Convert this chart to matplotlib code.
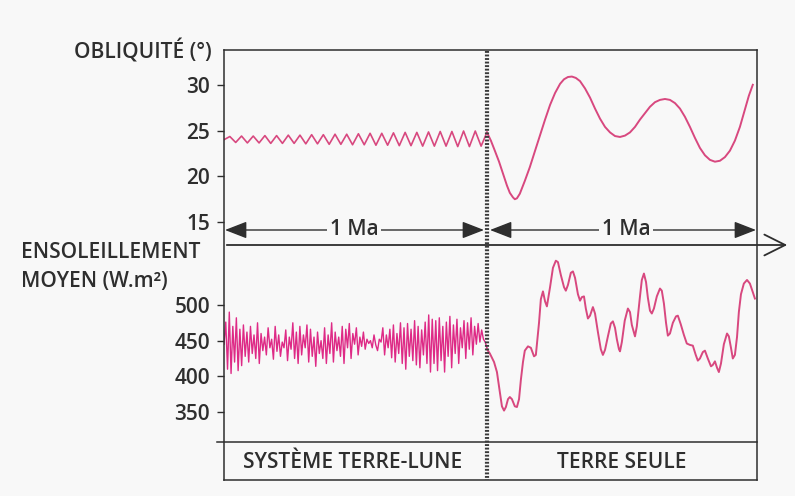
import numpy as np
import matplotlib
matplotlib.use("Agg")
import matplotlib.pyplot as plt
from matplotlib.lines import Line2D
from matplotlib.patches import FancyArrowPatch

# ---- data (time in kyr, 0 = the Moon disappears) ----
obliq_left = [24.0,
              24.35, 23.7, 24.4, 23.65, 24.4, 23.65, 24.45, 23.6, 24.45, 23.6,
              24.5, 23.6, 24.5, 23.55, 24.55, 23.55, 24.55, 23.5, 24.6, 23.5,
              24.6, 23.45, 24.65, 23.45, 24.7, 23.4, 24.7, 23.4, 24.75, 23.35,
              24.8, 23.35, 24.8, 23.3, 24.85, 23.3, 24.9, 23.3, 24.9, 23.25,
              24.95, 23.25, 24.95, 23.3, 24.8]

obliq_right_t = [0, 15, 30, 46, 61, 76, 87, 99, 106, 114, 125, 144, 163, 183,
                 202, 221, 240, 259, 278, 293, 308, 323, 338, 354, 373, 392,
                 411, 430, 449, 468, 487, 506, 525, 544, 563, 582, 601, 620,
                 639, 658, 677, 696, 715, 734, 753, 772, 791, 810, 829, 848,
                 867, 886, 905, 924, 943, 962, 981, 996, 1011]
obliq_right = [24.8, 23.9, 22.8, 21.6, 20.3, 19.0, 18.2, 17.7, 17.5, 17.6,
               18.1, 19.5, 21.0, 22.8, 24.5, 26.2, 27.8, 29.1, 30.1, 30.6,
               30.85, 30.9, 30.75, 30.4, 29.6, 28.6, 27.4, 26.3, 25.4, 24.8,
               24.4, 24.3, 24.45, 24.8, 25.4, 26.2, 26.9, 27.6, 28.1, 28.35,
               28.45, 28.35, 28.0, 27.4, 26.5, 25.4, 24.2, 23.1, 22.3, 21.8,
               21.6, 21.7, 22.1, 22.8, 23.9, 25.4, 27.3, 28.8, 30.0]

insol_left = [445, 476, 410, 490, 404, 470, 420, 482, 408, 466, 415, 472,
              428, 462, 420, 470, 432, 458, 425, 475, 418, 460, 436, 455,
              430, 468, 440, 452, 424, 470,
              435, 458, 428, 448, 440, 465, 422, 455, 438, 475, 425, 462,
              418, 470, 430, 458,
              440, 472, 420, 466, 428, 455, 414, 462, 432, 450, 425, 468,
              418, 458, 432, 475, 420, 462, 436, 455,
              428, 470, 418, 466, 440, 474, 425, 460, 445, 468, 430, 455,
              442, 462, 438, 452,
              446, 450, 440, 458, 444, 436, 452, 448, 468, 430, 458, 440,
              466, 426, 472, 420,
              460, 432, 475, 418, 468, 410, 474, 428, 466, 422, 478, 416,
              470, 412, 465, 430, 476, 418,
              486, 406, 480, 418, 478, 408, 482, 422, 470, 406, 476, 428,
              484, 412, 472, 432, 480, 418, 468, 440, 478, 425, 475, 438,
              482, 430, 470, 445, 474, 448, 465, 452, 448, 440]

insol_right_t = [0, 11, 27, 38, 49, 57, 65, 72, 80, 87, 95, 106, 114, 122,
                 129, 137, 144, 156, 167, 179, 186, 198, 205, 213, 221, 228,
                 240, 251, 262, 270, 281, 293, 300, 308, 319, 327, 335, 346,
                 354, 361, 369, 376, 384, 392, 403, 411, 422, 433, 441, 449,
                 460, 471, 479, 487, 494, 502, 506, 513, 524, 536, 544, 551,
                 563, 570, 582, 589, 597, 605, 612, 620, 627, 635, 646, 658,
                 665, 673, 681, 688, 696, 707, 719, 726, 737, 749, 760, 772,
                 783, 794, 802, 810, 821, 829, 840, 852, 859, 867, 875, 882,
                 890, 901, 913, 920, 928, 935, 943, 951, 958, 966, 977, 989,
                 1000, 1011, 1019]
insol_right = [438, 432, 420, 406, 378, 358, 352, 357, 368, 371, 368, 358,
               357, 368, 395, 420, 436, 442, 440, 428, 430, 475, 508, 519,
               505, 498, 525, 552, 562, 560, 542, 525, 520, 528, 545, 547,
               538, 515, 506, 511, 512, 495, 481, 485, 497, 488, 462, 438,
               430, 437, 456, 474, 477, 468, 452, 438, 435, 448, 478, 495,
               490, 472, 456, 470, 512, 535, 544, 532, 510, 492, 488, 495,
               512, 523, 520, 502, 475, 457, 460, 475, 484, 485, 473, 458,
               446, 444, 443, 430, 422, 425, 434, 436, 425, 414, 416, 421,
               412, 406, 418, 445, 460, 456, 440, 425, 430, 455, 490, 515,
               530, 535, 530, 518, 509]

obliq_ticks = [15, 20, 25, 30]
insol_ticks = [350, 400, 450, 500]

# ---- style ----
W, H = 795, 496
BG = "#f8f8f8"
INK = "#2e2e2e"
PINK = "#d8487f"
MAGENTA = "#de2a86"
FS = 15
plt.rcParams["font.family"] = ["Open Sans", "DejaVu Sans"]
plt.rcParams["font.weight"] = "semibold"


def fx(x):
    return x / W


def fy(y):
    return 1 - y / H


def rect(x0, y0, x1, y1):
    return [fx(x0), fy(y1), (x1 - x0) / W, (y1 - y0) / H]


def fig_line(fig, xs, ys, **kw):
    kw.setdefault("color", INK)
    kw.setdefault("lw", 1.1)
    fig.add_artist(Line2D([fx(x) for x in xs], [fy(y) for y in ys],
                          transform=fig.transFigure, **kw))


fig = plt.figure(figsize=(W / 100, H / 100), dpi=100)
fig.patch.set_facecolor(BG)

ax_top = fig.add_axes(rect(224, 50, 757, 245))
ax_bot = fig.add_axes(rect(224, 245, 757, 442))
for ax in (ax_top, ax_bot):
    ax.set_facecolor("none")
    for s in ax.spines.values():
        s.set_visible(False)
    ax.set_xlim(-1000, 1027)
    ax.set_xticks([])
    ax.tick_params(axis="y", direction="out", length=5, width=1.0,
                   color=INK, labelcolor=INK, pad=5, labelsize=FS)

ax_top.set_ylim(12.5, 33.8)
ax_top.set_yticks(obliq_ticks)
ax_bot.set_ylim(308, 584)
ax_bot.set_yticks(insol_ticks)

t_left_top = np.linspace(-1000, 0, len(obliq_left))
ax_top.plot(t_left_top, obliq_left, color=PINK, lw=1.2, solid_joinstyle="round")
ax_top.plot(obliq_right_t, obliq_right, color=PINK, lw=1.4, solid_joinstyle="round")

t_left_bot = np.linspace(-1000, 0, len(insol_left))
ax_bot.plot(t_left_bot, insol_left, color=MAGENTA, lw=1.0, solid_joinstyle="round")
ax_bot.plot(insol_right_t, insol_right, color=PINK, lw=1.4, solid_joinstyle="round")

# ---- frame ----
fig_line(fig, [224, 224], [50, 480])
fig_line(fig, [224, 757], [50, 50])
fig_line(fig, [757, 757], [50, 480])
fig_line(fig, [217, 757], [442, 442])
fig_line(fig, [224, 757], [480, 480])
fig_line(fig, [487, 487], [51, 480], lw=3.0, ls=(0, (0.45, 0.4)), color="#3a3a3a")

# time axis arrow
fig.add_artist(FancyArrowPatch(
    (fx(224), fy(245)), (fx(790), fy(245)), transform=fig.transFigure,
    arrowstyle="->,head_length=1.0,head_width=0.5", color=INK, lw=1.3,
    mutation_scale=15))

# "1 Ma" spans
for x0, x1, xt in [(225, 484, 354), (490, 756, 626)]:
    fig.add_artist(FancyArrowPatch(
        (fx(x0), fy(230)), (fx(x1), fy(230)), transform=fig.transFigure,
        arrowstyle="<|-|>,head_length=0.9,head_width=0.35", color=INK, lw=1.0,
        mutation_scale=15, shrinkA=0, shrinkB=0))
    fig.text(fx(xt), fy(230), "1 Ma", ha="center", va="center", color=INK,
             fontsize=FS, bbox=dict(fc=BG, ec="none", pad=2))

# labels
fig.text(fx(212), fy(51), "OBLIQUITÉ (°)", ha="right", va="center", color=INK, fontsize=FS)
fig.text(fx(21), fy(252), "ENSOLEILLEMENT", ha="left", va="center", color=INK, fontsize=FS)
fig.text(fx(21), fy(281), "MOYEN (W.m²)", ha="left", va="center", color=INK, fontsize=FS)
fig.text(fx(353), fy(463), "SYSTÈME TERRE-LUNE", ha="center", va="center", color=INK, fontsize=FS)
fig.text(fx(622), fy(463), "TERRE SEULE", ha="center", va="center", color=INK, fontsize=FS)

fig.savefig("out.png", dpi=100, facecolor=BG)
